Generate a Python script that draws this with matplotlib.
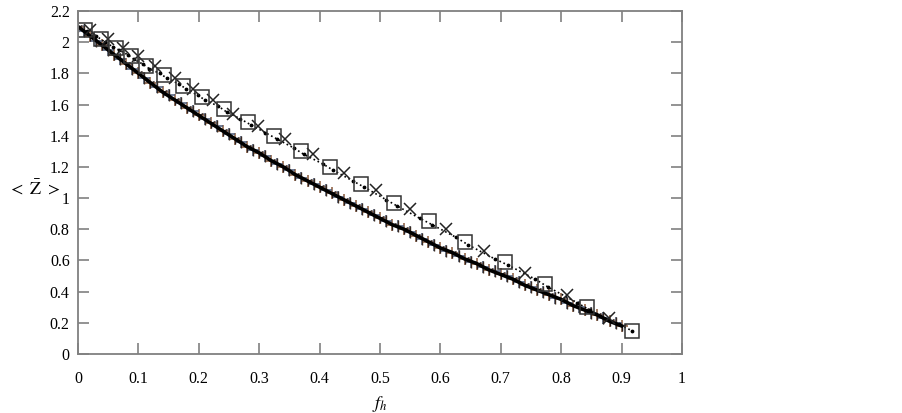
import matplotlib
matplotlib.use("Agg")
import matplotlib.pyplot as plt
from matplotlib.ticker import MultipleLocator, FuncFormatter

# upper curve: squares
sq_x = [0.011, 0.038, 0.063, 0.088, 0.113, 0.142, 0.174, 0.205, 0.242, 0.281, 0.324,
        0.369, 0.417, 0.469, 0.523, 0.581, 0.641, 0.707, 0.773, 0.843, 0.917]
sq_y = [2.08, 2.02, 1.96, 1.91, 1.85, 1.79, 1.72, 1.65, 1.57, 1.49, 1.40,
        1.30, 1.20, 1.09, 0.97, 0.85, 0.72, 0.59, 0.45, 0.30, 0.15]

# upper curve: crosses
cr_x = [0.020, 0.050, 0.075, 0.100, 0.127, 0.160, 0.190, 0.224, 0.257, 0.298,
        0.343, 0.389, 0.440, 0.493, 0.550, 0.609, 0.672, 0.740, 0.810, 0.879]
cr_y = [2.08, 2.02, 1.96, 1.91, 1.85, 1.77, 1.70, 1.63, 1.54, 1.46,
        1.38, 1.28, 1.16, 1.05, 0.93, 0.80, 0.66, 0.52, 0.38, 0.23]

# upper curve: dotted line with dots
dot_x = [0.015, 0.030, 0.045, 0.058, 0.068, 0.082, 0.093, 0.107, 0.118, 0.135, 0.147,
         0.168, 0.179, 0.198, 0.210, 0.232, 0.247, 0.268, 0.286, 0.310, 0.329, 0.358,
         0.374, 0.405, 0.422, 0.455, 0.474, 0.510, 0.528, 0.566, 0.586, 0.625, 0.646,
         0.690, 0.712, 0.757, 0.778, 0.826, 0.848, 0.895, 0.917]
dot_y = [2.07, 2.04, 2.00, 1.97, 1.95, 1.92, 1.89, 1.86, 1.83, 1.80, 1.77,
         1.73, 1.70, 1.66, 1.63, 1.59, 1.55, 1.51, 1.47, 1.42, 1.38, 1.32,
         1.28, 1.22, 1.18, 1.11, 1.07, 0.99, 0.95, 0.87, 0.83, 0.75, 0.70,
         0.61, 0.57, 0.48, 0.43, 0.33, 0.28, 0.19, 0.15]

# lower curve (two dense marker series, line through the first)
low_a_x = [0.00, 0.02, 0.04, 0.06, 0.08, 0.10, 0.12, 0.14, 0.16, 0.18, 0.20, 0.22, 0.24,
           0.26, 0.28, 0.30, 0.32, 0.34, 0.36, 0.38, 0.40, 0.42, 0.44, 0.46, 0.48, 0.50,
           0.52, 0.54, 0.56, 0.58, 0.60, 0.62, 0.64, 0.66, 0.68, 0.70, 0.72, 0.74, 0.76,
           0.78, 0.80, 0.82, 0.84, 0.86, 0.88, 0.90]
low_a_y = [2.10, 2.04, 1.98, 1.92, 1.86, 1.80, 1.74, 1.68, 1.63, 1.58, 1.53, 1.48, 1.43,
           1.38, 1.33, 1.29, 1.24, 1.20, 1.15, 1.11, 1.07, 1.03, 0.99, 0.95, 0.91, 0.87,
           0.83, 0.80, 0.76, 0.72, 0.68, 0.65, 0.61, 0.58, 0.54, 0.51, 0.48, 0.44, 0.41,
           0.38, 0.35, 0.31, 0.28, 0.25, 0.21, 0.18]
low_b_x = [0.01, 0.03, 0.05, 0.07, 0.09, 0.11, 0.13, 0.15, 0.17, 0.19, 0.21, 0.23, 0.25,
           0.27, 0.29, 0.31, 0.33, 0.35, 0.37, 0.39, 0.41, 0.43, 0.45, 0.47, 0.49, 0.51,
           0.53, 0.55, 0.57, 0.59, 0.61, 0.63, 0.65, 0.67, 0.69, 0.71, 0.73, 0.75, 0.77,
           0.79, 0.81, 0.83, 0.85, 0.87, 0.89]
low_b_y = [2.07, 2.01, 1.95, 1.89, 1.83, 1.77, 1.71, 1.66, 1.61, 1.56, 1.51, 1.46, 1.41,
           1.36, 1.31, 1.27, 1.22, 1.18, 1.13, 1.09, 1.05, 1.01, 0.97, 0.93, 0.89, 0.85,
           0.82, 0.78, 0.74, 0.70, 0.66, 0.63, 0.59, 0.56, 0.53, 0.50, 0.46, 0.43, 0.40,
           0.36, 0.33, 0.30, 0.26, 0.23, 0.20]

plt.rcParams["font.family"] = ["Liberation Serif", "DejaVu Serif"]
plt.rcParams["mathtext.fontset"] = "stix"

fig = plt.figure(figsize=(9.02, 4.13), dpi=100)
ax = fig.add_axes([78 / 902, 1 - 354 / 413, 604 / 902, 343 / 413])

ax.plot(low_a_x, low_a_y, ls="none", marker="+", ms=9, mew=1.1, color="#8a5a3a")
ax.plot(low_b_x, low_b_y, ls="none", marker="+", ms=9, mew=1.1, color="#4a5a78")
ax.plot(low_b_x, low_b_y, ls="none", marker="|", ms=9, mew=1.0, color="#3a2a20")
ax.plot(low_a_x, low_a_y, ls="none", marker="1", ms=7, mew=1.0, color="#2a2020")
ax.plot(low_a_x, low_a_y, color="black", lw=2.6)

ax.plot(dot_x, dot_y, ls=":", lw=1.2, marker=".", ms=3.5, color="black")
ax.plot(cr_x, cr_y, ls="none", marker="x", ms=9, mew=1.1, color="#222222")
ax.plot(sq_x, sq_y, ls="none", marker="s", ms=10, mew=1.1, mfc="none", mec="#333333")

ax.set_xlim(0, 1)
ax.set_ylim(0, 2.2)
ax.xaxis.set_major_locator(MultipleLocator(0.1))
ax.yaxis.set_major_locator(MultipleLocator(0.2))
fmt = FuncFormatter(lambda v, p: f"{round(v, 2):g}")
ax.xaxis.set_major_formatter(fmt)
ax.yaxis.set_major_formatter(fmt)
ax.tick_params(direction="in", length=8, width=1.2, color="#808080",
               top=True, right=True, labelsize=11.5)
ax.tick_params(axis="x", pad=12)
ax.tick_params(axis="y", pad=6)
for s in ax.spines.values():
    s.set_color("#808080")
    s.set_linewidth(1.3)

ax.set_xlabel(r"$f_h$", fontsize=13, labelpad=5)
ax.set_ylabel(r"$<\ \bar{\mathrm{Z}}\ >$", fontsize=13, rotation=0, ha="center", va="center")
ax.yaxis.set_label_coords(-0.072, 0.48)

fig.savefig("out.png", dpi=100)
